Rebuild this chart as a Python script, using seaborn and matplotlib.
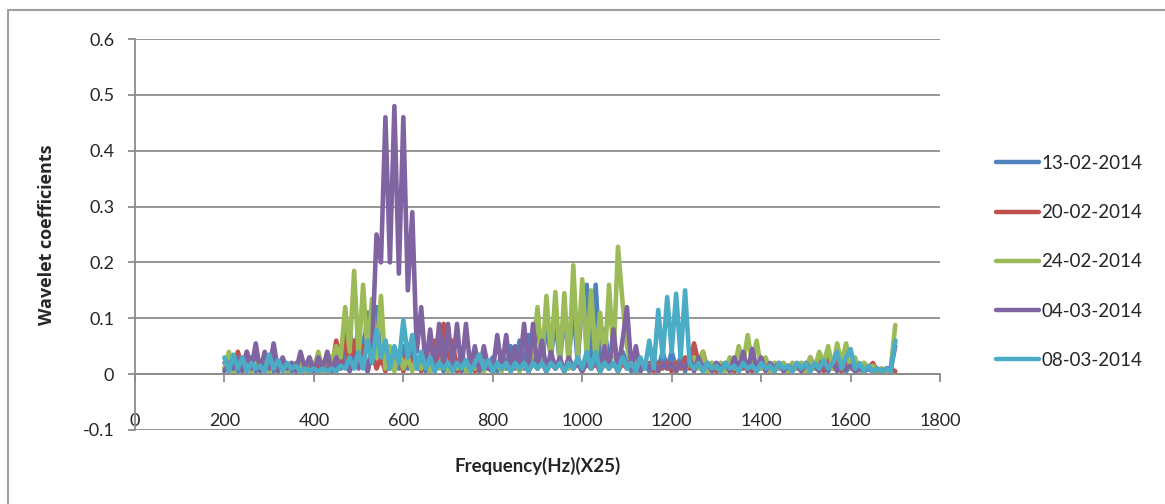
import numpy as np
import pandas as pd
import matplotlib
matplotlib.use("Agg")
import matplotlib.pyplot as plt
import seaborn as sns
from matplotlib.patches import Rectangle

# frequency grid (x25 Hz), one sample every 10 units
freq = np.arange(200, 1701, 10)

s_13_02 = [
    0.02, 0.01, 0.03, 0.005, 0.02, 0.01, 0.03, 0.005, 0.02, 0.01,
    0.02, 0.005, 0.02, 0.01, 0.015, 0.005, 0.02, 0.01, 0.02, 0.005,
    0.015, 0.005, 0.02, 0.01, 0.03, 0.01, 0.05, 0.02, 0.08, 0.02,
    0.09, 0.03, 0.11, 0.04, 0.12, 0.02, 0.06, 0.01, 0.04, 0.01,
    0.05, 0.01, 0.04, 0.01, 0.03, 0.005, 0.02, 0.01, 0.03, 0.005,
    0.03, 0.01, 0.02, 0.005, 0.02, 0.01, 0.02, 0.005, 0.02, 0.01,
    0.03, 0.005, 0.04, 0.01, 0.05, 0.01, 0.06, 0.01, 0.07, 0.02,
    0.105, 0.02, 0.09, 0.03, 0.1, 0.02, 0.11, 0.03, 0.12, 0.02,
    0.14, 0.16, 0.03, 0.16, 0.02, 0.08, 0.02, 0.06, 0.01, 0.04,
    0.02, 0.005, 0.02, 0.01, 0.02, 0.005, 0.03, 0.01, 0.04, 0.01,
    0.04, 0.01, 0.03, 0.005, 0.03, 0.01, 0.02, 0.005, 0.02, 0.01,
    0.02, 0.005, 0.02, 0.01, 0.02, 0.005, 0.02, 0.01, 0.02, 0.005,
    0.02, 0.01, 0.015, 0.005, 0.02, 0.01, 0.015, 0.005, 0.02, 0.01,
    0.02, 0.005, 0.02, 0.01, 0.02, 0.005, 0.02, 0.01, 0.015, 0.005,
    0.015, 0.005, 0.01, 0.005, 0.01, 0.005, 0.01, 0.005, 0.01, 0.01,
    0.06,
]

s_20_02 = [
    0.01, 0.03, 0.005, 0.04, 0.01, 0.04, 0.005, 0.04, 0.01, 0.03,
    0.005, 0.03, 0.01, 0.02, 0.005, 0.02, 0.01, 0.03, 0.005, 0.02,
    0.01, 0.02, 0.005, 0.03, 0.01, 0.06, 0.02, 0.075, 0.01, 0.06,
    0.02, 0.05, 0.005, 0.04, 0.01, 0.03, 0.005, 0.03, 0.01, 0.03,
    0.005, 0.04, 0.01, 0.03, 0.005, 0.04, 0.01, 0.06, 0.02, 0.09,
    0.01, 0.06, 0.005, 0.04, 0.01, 0.03, 0.005, 0.03, 0.01, 0.02,
    0.005, 0.02, 0.01, 0.02, 0.005, 0.02, 0.01, 0.02, 0.005, 0.02,
    0.01, 0.02, 0.005, 0.02, 0.01, 0.02, 0.005, 0.02, 0.01, 0.02,
    0.005, 0.02, 0.01, 0.02, 0.005, 0.02, 0.01, 0.02, 0.005, 0.02,
    0.01, 0.02, 0.005, 0.02, 0.01, 0.02, 0.005, 0.02, 0.01, 0.02,
    0.005, 0.02, 0.01, 0.03, 0.01, 0.055, 0.02, 0.04, 0.01, 0.02,
    0.005, 0.02, 0.01, 0.02, 0.005, 0.02, 0.01, 0.02, 0.005, 0.02,
    0.01, 0.02, 0.005, 0.02, 0.01, 0.02, 0.005, 0.02, 0.01, 0.02,
    0.005, 0.03, 0.01, 0.035, 0.005, 0.03, 0.01, 0.03, 0.005, 0.02,
    0.01, 0.02, 0.005, 0.02, 0.01, 0.02, 0.005, 0.01, 0.005, 0.01,
    0.005,
]

s_24_02 = [
    0.01, 0.04, 0.005, 0.03, 0.01, 0.03, 0.005, 0.02, 0.01, 0.02,
    0.005, 0.02, 0.01, 0.02, 0.005, 0.02, 0.01, 0.02, 0.005, 0.03,
    0.01, 0.04, 0.005, 0.04, 0.02, 0.05, 0.03, 0.12, 0.04, 0.185,
    0.03, 0.16, 0.04, 0.135, 0.03, 0.14, 0.01, 0.05, 0.005, 0.04,
    0.01, 0.03, 0.005, 0.03, 0.01, 0.02, 0.005, 0.03, 0.01, 0.04,
    0.005, 0.03, 0.01, 0.02, 0.005, 0.02, 0.01, 0.02, 0.005, 0.02,
    0.01, 0.02, 0.005, 0.02, 0.01, 0.02, 0.005, 0.02, 0.01, 0.04,
    0.12, 0.02, 0.14, 0.03, 0.147, 0.02, 0.145, 0.01, 0.195, 0.03,
    0.17, 0.03, 0.15, 0.02, 0.11, 0.02, 0.16, 0.03, 0.228, 0.13,
    0.05, 0.01, 0.03, 0.005, 0.02, 0.01, 0.02, 0.005, 0.02, 0.01,
    0.02, 0.005, 0.02, 0.01, 0.02, 0.03, 0.01, 0.04, 0.005, 0.02,
    0.01, 0.02, 0.005, 0.03, 0.01, 0.05, 0.02, 0.07, 0.02, 0.06,
    0.01, 0.03, 0.005, 0.02, 0.01, 0.02, 0.005, 0.02, 0.01, 0.02,
    0.005, 0.03, 0.01, 0.04, 0.02, 0.05, 0.01, 0.055, 0.02, 0.055,
    0.01, 0.03, 0.005, 0.02, 0.01, 0.015, 0.005, 0.01, 0.005, 0.01,
    0.088,
]

s_04_03 = [
    0.005, 0.02, 0.01, 0.03, 0.005, 0.04, 0.01, 0.055, 0.005, 0.04,
    0.01, 0.055, 0.005, 0.03, 0.01, 0.02, 0.005, 0.04, 0.01, 0.03,
    0.005, 0.03, 0.01, 0.04, 0.005, 0.03, 0.01, 0.02, 0.005, 0.03,
    0.01, 0.03, 0.005, 0.04, 0.25, 0.2, 0.46, 0.2, 0.48, 0.18,
    0.46, 0.15, 0.29, 0.04, 0.12, 0.01, 0.08, 0.005, 0.09, 0.01,
    0.09, 0.01, 0.09, 0.005, 0.09, 0.01, 0.05, 0.005, 0.05, 0.01,
    0.005, 0.07, 0.01, 0.07, 0.005, 0.05, 0.01, 0.09, 0.005, 0.09,
    0.01, 0.06, 0.005, 0.04, 0.01, 0.03, 0.005, 0.03, 0.01, 0.02,
    0.005, 0.02, 0.01, 0.03, 0.005, 0.05, 0.01, 0.08, 0.005, 0.06,
    0.12, 0.01, 0.05, 0.005, 0.02, 0.01, 0.02, 0.005, 0.02, 0.01,
    0.02, 0.005, 0.02, 0.01, 0.03, 0.005, 0.03, 0.01, 0.02, 0.005,
    0.02, 0.01, 0.02, 0.005, 0.03, 0.01, 0.04, 0.005, 0.045, 0.01,
    0.03, 0.005, 0.02, 0.01, 0.02, 0.005, 0.015, 0.01, 0.015, 0.005,
    0.02, 0.01, 0.015, 0.005, 0.02, 0.01, 0.02, 0.005, 0.015, 0.01,
    0.015, 0.005, 0.01, 0.005, 0.01, 0.005, 0.01, 0.005, 0.01, 0.01,
    0.05,
]

s_08_03 = [
    0.03, 0.005, 0.035, 0.01, 0.03, 0.005, 0.02, 0.01, 0.015, 0.005,
    0.035, 0.01, 0.025, 0.005, 0.02, 0.01, 0.015, 0.005, 0.01, 0.005,
    0.01, 0.005, 0.01, 0.005, 0.01, 0.005, 0.015, 0.01, 0.03, 0.01,
    0.04, 0.01, 0.06, 0.02, 0.079, 0.03, 0.06, 0.01, 0.05, 0.02,
    0.097, 0.03, 0.07, 0.01, 0.04, 0.01, 0.03, 0.005, 0.02, 0.01,
    0.02, 0.005, 0.02, 0.01, 0.025, 0.005, 0.02, 0.035, 0.01, 0.025,
    0.005, 0.02, 0.01, 0.02, 0.005, 0.02, 0.01, 0.02, 0.005, 0.02,
    0.01, 0.02, 0.005, 0.02, 0.01, 0.02, 0.005, 0.02, 0.01, 0.03,
    0.01, 0.04, 0.01, 0.04, 0.005, 0.02, 0.01, 0.02, 0.005, 0.03,
    0.01, 0.02, 0.005, 0.03, 0.01, 0.06, 0.01, 0.115, 0.03, 0.138,
    0.04, 0.144, 0.03, 0.15, 0.02, 0.01, 0.02, 0.005, 0.02, 0.01,
    0.015, 0.005, 0.02, 0.01, 0.015, 0.005, 0.02, 0.01, 0.015, 0.005,
    0.02, 0.01, 0.015, 0.005, 0.02, 0.01, 0.015, 0.005, 0.02, 0.01,
    0.02, 0.005, 0.02, 0.01, 0.025, 0.01, 0.02, 0.04, 0.01, 0.03,
    0.045, 0.01, 0.02, 0.005, 0.015, 0.005, 0.01, 0.005, 0.01, 0.005,
    0.06,
]

series_names = ["13-02-2014", "20-02-2014", "24-02-2014", "04-03-2014", "08-03-2014"]
series_vals = [s_13_02, s_20_02, s_24_02, s_04_03, s_08_03]
colors = ["#4F81BD", "#C0504D", "#9BBB59", "#8064A2", "#4BACC6"]

df = pd.concat(
    [pd.DataFrame({"freq": freq, "coef": v, "date": n}) for n, v in zip(series_names, series_vals)],
    ignore_index=True,
)

sns.set_style("white")
plt.rcParams["font.family"] = ["Lato", "DejaVu Sans"]

fig = plt.figure(figsize=(11.65, 5.04), dpi=100)
ax = fig.add_axes([135 / 1165, 1 - 430 / 504, 805 / 1165, 391 / 504])

sns.lineplot(
    data=df, x="freq", y="coef", hue="date", hue_order=series_names,
    palette=colors, linewidth=3.3, ax=ax, legend=True,
)

ax.set_xlim(0, 1800)
ax.set_ylim(-0.1, 0.6)
ax.set_xticks(np.arange(0, 1801, 200))
ax.set_yticks(np.round(np.arange(-0.1, 0.61, 0.1), 1))
ax.set_yticklabels(["-0.1", "0", "0.1", "0.2", "0.3", "0.4", "0.5", "0.6"])

grid_c = "#8c8c8c"
ax.yaxis.grid(True, color=grid_c, linewidth=1.3, zorder=0)
ax.xaxis.grid(False)
ax.set_axisbelow(True)

for side in ["top", "right"]:
    ax.spines[side].set_visible(False)
ax.spines["left"].set_color(grid_c)
ax.spines["left"].set_linewidth(1.3)
ax.spines["bottom"].set_position(("data", 0))
ax.spines["bottom"].set_color(grid_c)
ax.spines["bottom"].set_linewidth(1.3)

ax.tick_params(axis="y", direction="out", length=5, color=grid_c, width=1.3,
               labelsize=13, pad=10, left=True)
ax.tick_params(axis="x", direction="out", length=6, color=grid_c, width=1.3,
               labelsize=13, pad=22, bottom=True)

ax.set_xlabel("Frequency(Hz)(X25)", fontsize=13.5, fontweight="bold")
ax.xaxis.set_label_coords(0.5, -0.07)
ax.set_ylabel("Wavelet coefficients", fontsize=13, fontweight="bold",
              family=["Open Sans", "DejaVu Sans"])
ax.yaxis.set_label_coords(-0.098, 0.5)

leg = ax.legend(loc="center left", bbox_to_anchor=(1.07, 0.43), frameon=False,
                fontsize=13.5, handlelength=2.3, handletextpad=0.1,
                labelspacing=1.72, borderaxespad=0, borderpad=0)
for line in leg.get_lines():
    line.set_linewidth(3.2)

# chart area border (only left and top edges fall inside the image)
fig.patches.append(Rectangle((8 / 1165, -0.2), 1.2, 1.2 - 10 / 504,
                             transform=fig.transFigure, fill=False,
                             edgecolor="#a0a0a0", linewidth=1.5))

fig.savefig("out.png", dpi=100)
